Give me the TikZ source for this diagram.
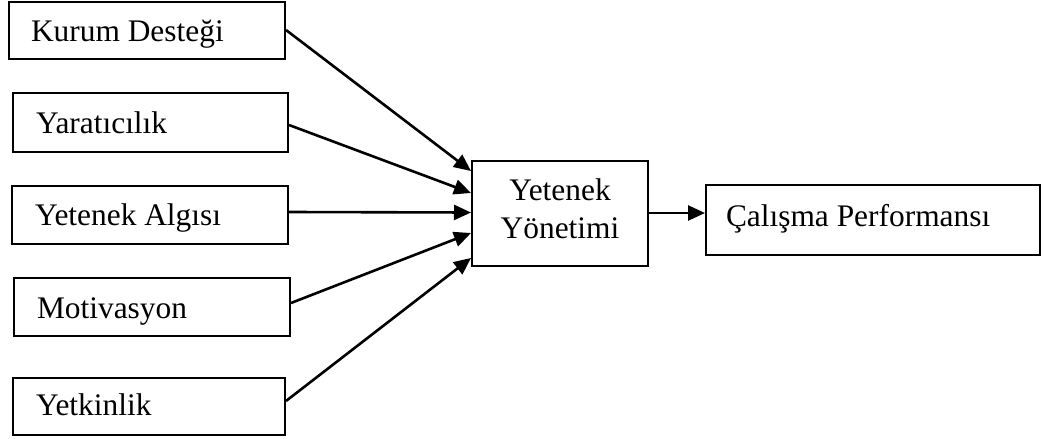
\documentclass[tikz,border=0pt]{standalone}
\usepackage{fontspec}
\setmainfont{Liberation Serif}
\usetikzlibrary{arrows.meta}
\begin{document}
\begin{tikzpicture}[x=1pt,y=-1pt,
  every node/.style={font=\fontsize{31.4}{38}\selectfont},
  box/.style={draw,line width=2pt,anchor=north west,inner xsep=22pt,inner ysep=0pt,
    align=flush left,text height=24pt,text depth=3pt},
  arr/.style={line width=2.6pt,-{Triangle[length=17pt,width=15pt]}}]
\useasboundingbox (0,0) rectangle (1045,439);
\node[box,minimum width=276pt,minimum height=57pt,text width=232pt] (k1) at (8,1) {Kurum Desteği};
\node[box,minimum width=274pt,minimum height=59pt,text width=229pt,inner xsep=23pt] (k2) at (12,92) {Yaratıcılık};
\node[box,minimum width=276pt,minimum height=58pt,text width=230pt,inner xsep=23pt] (k3) at (11,185) {Yetenek Algısı};
\node[box,minimum width=276pt,minimum height=58pt,text width=230pt,inner xsep=22pt,text height=25pt,text depth=3pt] (k4) at (13,277) {Motivasyon};
\node[box,minimum width=272pt,minimum height=57pt,text width=226pt,inner xsep=23pt,text height=22pt,text depth=4pt] (k5) at (12,377) {Yetkinlik};
\node[draw,line width=2pt,anchor=north west,minimum width=176pt,minimum height=105pt,align=center,inner sep=0pt] (ty) at (471,160) {Yetenek\\Yönetimi\rule[-10.4pt]{0pt}{0pt}};
\node[box,minimum width=334pt,minimum height=70pt,text width=294pt,inner xsep=20pt,text height=20pt,text depth=7pt] (cp) at (705,184) {Çalışma Performansı};
\draw[arr] ([yshift=0.5pt]k1.east) -- ([yshift=42.5pt]ty.west);
\draw[arr] ([yshift=-2.5pt]k2.east) -- ([yshift=20.5pt]ty.west);
\draw[arr] ([yshift=3pt]k3.east) -- ([yshift=1pt]ty.west);
\draw[arr] ([yshift=4pt]k4.east) -- ([yshift=-19.5pt]ty.west);
\draw[arr] ([yshift=5.5pt]k5.east) -- ([yshift=-44.5pt]ty.west);
\draw[arr] ([yshift=0.5pt]ty.east) -- ([yshift=7pt]cp.west);
\end{tikzpicture}
\end{document}
